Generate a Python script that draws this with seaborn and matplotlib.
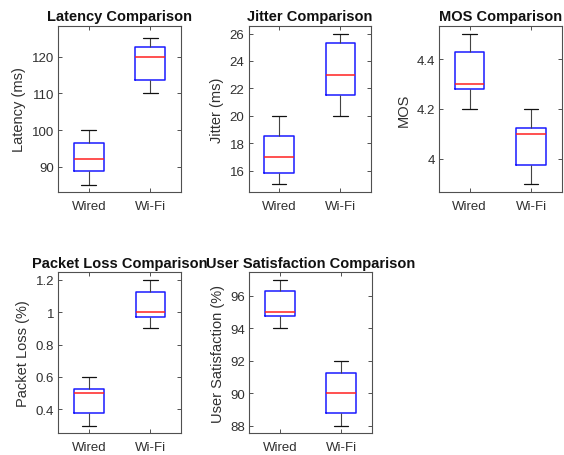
import numpy as np
import pandas as pd
import matplotlib
matplotlib.use("Agg")
import matplotlib.pyplot as plt
import seaborn as sns
from matplotlib.ticker import FuncFormatter

# ---- data (five-number summaries: min, q1, median, q3, max) ----
connections = ["Wired", "Wi-Fi"]

latency_wired = [85, 88.8, 92, 96.4, 100]
latency_wifi = [110, 113.8, 120, 122.8, 125]

jitter_wired = [15, 15.8, 17, 18.5, 20]
jitter_wifi = [20, 21.5, 23, 25.3, 26]

mos_wired = [4.2, 4.28, 4.3, 4.43, 4.5]
mos_wifi = [3.9, 3.975, 4.1, 4.125, 4.2]

loss_wired = [0.3, 0.38, 0.5, 0.525, 0.6]
loss_wifi = [0.9, 0.972, 1.0, 1.125, 1.2]

sat_wired = [94, 94.75, 95, 96.27, 97]
sat_wifi = [88, 88.78, 90, 91.25, 92]

titles = ["Latency Comparison", "Jitter Comparison", "MOS Comparison",
          "Packet Loss Comparison", "User Satisfaction Comparison"]
ylabels = ["Latency (ms)", "Jitter (ms)", "MOS", "Packet Loss (%)", "User Satisfaction (%)"]
yticks = [[90, 100, 110, 120], [16, 18, 20, 22, 24, 26], [4, 4.2, 4.4],
          [0.4, 0.6, 0.8, 1.0, 1.2], [88, 90, 92, 94, 96]]
ylims = [(83.1, 128.4), (14.45, 26.55), (3.867, 4.533), (0.255, 1.245), (87.55, 97.45)]

series = [(latency_wired, latency_wifi), (jitter_wired, jitter_wifi), (mos_wired, mos_wifi),
          (loss_wired, loss_wifi), (sat_wired, sat_wifi)]

# ---- style ----
sns.set_theme(style="white")
plt.rcParams["font.family"] = ["Liberation Sans", "DejaVu Sans"]

W, H = 564, 456
fig = plt.figure(figsize=(W / 100, H / 100), dpi=100)

# axes boxes in pixels: left, right, top, bottom
boxes = [(58, 181, 27, 193), (248.5, 371, 27, 193), (439, 561.7, 27, 193),
         (58.3, 181, 273.3, 434), (249.3, 371.7, 273.3, 434)]

gray = "#303030"
for i, (b, (w, f)) in enumerate(zip(boxes, series)):
    l, r, t, bt = b
    ax = fig.add_axes([l / W, (H - bt) / H, (r - l) / W, (bt - t) / H])
    df = pd.DataFrame({"Connection": [connections[0]] * len(w) + [connections[1]] * len(f),
                       "value": list(w) + list(f)})
    sns.boxplot(data=df, x="Connection", y="value", ax=ax, width=0.48, fill=False,
                whis=(0, 100), showfliers=False, linewidth=1.0, linecolor="black",
                boxprops=dict(color="#1a1aff", linewidth=1.1),
                medianprops=dict(color="#ff2020", linewidth=1.1),
                whiskerprops=dict(color="#444444", linewidth=0.8),
                capprops=dict(color="#111111", linewidth=0.9))
    ax.set_xlim(-0.5, 1.5)
    ax.set_ylim(*ylims[i])
    ax.set_yticks(yticks[i])
    ax.yaxis.set_major_formatter(FuncFormatter(lambda v, p: "%g" % round(v, 6)))
    ax.set_xlabel("")
    ax.set_ylabel(ylabels[i], fontsize=10.5, color=gray, labelpad=4)
    ax.set_title(titles[i], fontsize=10.5, fontweight="bold", color="#111111", pad=4)
    ax.tick_params(axis="both", which="both", direction="in", length=3, width=0.7,
                   colors="#505050", labelcolor=gray, labelsize=9.5,
                   top=True, right=True, left=True, bottom=True)
    ax.tick_params(axis="x", pad=6)
    ax.tick_params(axis="y", pad=3)
    for s in ax.spines.values():
        s.set_visible(True)
        s.set_color("#505050")
        s.set_linewidth(0.8)

fig.savefig("out.png", dpi=100, facecolor="white")
